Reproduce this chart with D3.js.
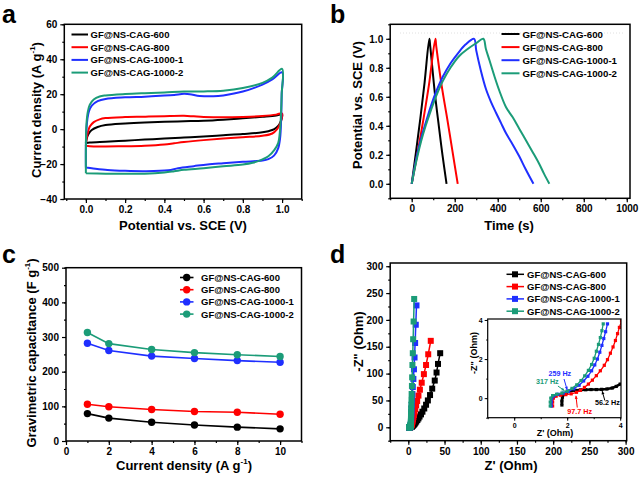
<!DOCTYPE html>
<html>
<head>
<meta charset="utf-8">
<script src="https://cdn.jsdelivr.net/npm/d3@7"></script>
<style>
  body { margin: 0; background: #fff; }
  svg text { font-family: Arial, "Liberation Sans", sans-serif; font-weight: bold; fill: #000; }
</style>
</head>
<body>
<svg id="fig" width="641" height="479"></svg>
<script>
// ---- shared series info ----
const seriesNames = ["GF@NS-CAG-600", "GF@NS-CAG-800", "GF@NS-CAG-1000-1", "GF@NS-CAG-1000-2"];
const seriesColors = ["#000000", "#ff0000", "#1f2fff", "#1b9c78"];

// ---- (a) CV loops: [potential V, current A/g] ----
const cv600 = [[0,-8],[0.005,-5],[0.015,-2.5],[0.03,-0.5],[0.06,1.2],[0.1,2.3],[0.2,3.2],[0.3,3.8],[0.4,4.2],[0.5,4.5],[0.6,4.8],[0.7,5.4],[0.8,6.2],[0.9,7.1],[0.97,7.8],[1.0,8.3],
  [0.995,5],[0.985,2.5],[0.97,0.8],[0.95,-0.5],[0.9,-1.8],[0.8,-2.8],[0.7,-3.5],[0.6,-4.2],[0.5,-4.8],[0.4,-5.4],[0.3,-6.0],[0.2,-6.6],[0.1,-7.2],[0.02,-7.7],[0,-8]];
const cv800 = [[0,-9.5],[0.003,-6],[0.01,-2],[0.02,1.5],[0.04,4],[0.07,5.6],[0.1,6.3],[0.2,6.9],[0.3,7.1],[0.4,7.4],[0.5,7.6],[0.55,7.3],[0.6,7.0],[0.7,6.8],[0.8,7.0],[0.9,7.5],[0.97,8.3],[1.0,9.0],
  [0.998,6],[0.99,3],[0.975,0],[0.95,-2.5],[0.9,-3.8],[0.8,-4.6],[0.7,-5.4],[0.6,-6.3],[0.5,-7.4],[0.45,-8.1],[0.4,-8.8],[0.3,-9.5],[0.2,-9.8],[0.1,-9.9],[0.02,-9.8],[0,-9.5]];
const cv1000a = [[0,-22],[0,-10],[0.003,0],[0.008,6],[0.015,10],[0.03,13.5],[0.06,16],[0.1,17.3],[0.2,18.2],[0.3,18.6],[0.4,19.2],[0.45,19.6],[0.5,20.2],[0.53,20.0],[0.58,19.0],[0.65,18.8],[0.7,19.3],[0.8,21.5],[0.9,25.5],[0.95,28.5],[1.0,32.5],
  [0.998,20],[0.995,5],[0.99,-5],[0.98,-11],[0.96,-15],[0.93,-17.2],[0.9,-18],[0.8,-18.7],[0.7,-19.5],[0.62,-20.2],[0.55,-21.2],[0.47,-22.4],[0.42,-23.6],[0.3,-24.1],[0.2,-23.9],[0.11,-23.4],[0.03,-22.4],[0,-22]];
const cv1000b = [[0,-25.2],[0,-10],[0.003,3],[0.01,10],[0.02,14],[0.04,17],[0.07,18.7],[0.1,19.3],[0.2,20.1],[0.3,20.6],[0.4,21.0],[0.5,21.5],[0.6,21.6],[0.7,22.0],[0.8,23.5],[0.9,26.5],[0.95,29.5],[1.0,34.5],
  [0.998,20],[0.99,0],[0.98,-8],[0.96,-12],[0.93,-15.5],[0.9,-17.3],[0.85,-19.3],[0.8,-20.3],[0.7,-21.3],[0.6,-22.4],[0.5,-23.3],[0.45,-24.1],[0.4,-24.8],[0.3,-25.5],[0.2,-25.6],[0.1,-25.5],[0,-25.2]];
const cvSeries = [cv600, cv800, cv1000a, cv1000b];

// ---- (b) GCD curves: [time s, potential V] ----
const gcd600 = [[0,0],[20,0.22],[40,0.45],[60,0.7],[82,1.0],[86,0.95],[108,0.62],[126,0.4],[143,0.2],[162,0]];
const gcd800 = [[0,0],[28,0.22],[55,0.45],[80,0.68],[110,1.0],[114,0.95],[140,0.67],[165,0.45],[190,0.22],[214,0]];
const gcd1000a = [[0,0],[12,0.1],[25,0.2],[45,0.32],[65,0.42],[90,0.54],[115,0.64],[145,0.74],[180,0.83],[215,0.9],[250,0.96],[290,1.0],
  [300,0.92],[320,0.79],[346,0.65],[370,0.56],[392,0.49],[415,0.42],[438,0.35],[470,0.27],[500,0.19],[530,0.1],[566,0]];
const gcd1000b = [[0,0],[12,0.09],[25,0.18],[45,0.3],[65,0.4],[90,0.51],[115,0.61],[145,0.71],[180,0.8],[220,0.88],[260,0.93],[300,0.97],[333,1.0],
  [345,0.93],[362,0.85],[385,0.74],[408,0.64],[438,0.53],[469,0.46],[500,0.38],[531,0.3],[562,0.22],[592,0.14],[615,0.07],[640,0]];
const gcdSeries = [gcd600, gcd800, gcd1000a, gcd1000b];

// ---- (c) rate capability ----
const currentDensity = [1, 2, 4, 6, 8, 10];
const cap600 = [79, 66, 54, 46, 40, 35];
const cap800 = [106, 99, 91, 85, 83, 77];
const cap1000a = [282, 261, 245, 238, 232, 227];
const cap1000b = [313, 281, 264, 255, 249, 244];
const capSeries = [cap600, cap800, cap1000a, cap1000b];

// ---- (d) Nyquist: [Z' ohm, -Z'' ohm] ----
const eis600 = [[1.8,-0.35],[1.8,-0.15],[1.82,0.05],[1.88,0.2],[1.98,0.3],[2.1,0.37],[2.3,0.4],[2.5,0.42],[2.7,0.43],[2.9,0.44],[3.1,0.44],[3.3,0.45],[3.5,0.47],[3.7,0.52],[3.85,0.6],[4.0,0.72],
  [4.4,1.0],[4.9,1.5],[5.5,2.2],[6.2,3.0],[7.0,4.0],[8.0,5.3],[9.0,7],[10,9],[11,11],[12.5,13.5],[14,16.5],[15.5,20],[17.5,24],[19.5,29],[22,35],[24.5,42],[27,50],[30,60],[33,72],[36.5,87],[39,102],[41,118],[44,138]];
const eis800 = [[1.45,-0.4],[1.45,-0.2],[1.48,0.0],[1.58,0.1],[1.75,0.15],[1.95,0.18],[2.15,0.22],[2.35,0.3],[2.5,0.4],[2.65,0.55],[2.8,0.72],[2.95,0.92],[3.1,1.15],[3.25,1.4],[3.4,1.68],[3.52,1.97],[3.63,2.3],[3.73,2.62],[3.82,2.95],[3.9,3.3],[3.97,3.62],[4.05,3.95],
  [4.3,4.5],[4.6,5.2],[4.9,6.3],[5.2,8],[5.6,10],[6.0,12.5],[6.5,15.5],[7.1,19],[7.8,23],[8.6,28],[9.6,34],[10.8,41],[12.2,49],[14,59],[16,70],[18.5,83],[21.5,99],[24.5,116],[27.5,136],[31,161]];
const eis1000a = [[1.4,-0.4],[1.4,-0.2],[1.42,0.0],[1.5,0.12],[1.65,0.2],[1.85,0.26],[2.05,0.34],[2.25,0.48],[2.45,0.66],[2.62,0.88],[2.78,1.12],[2.92,1.4],[3.04,1.7],[3.14,2.0],[3.23,2.35],[3.31,2.7],[3.38,3.05],[3.45,3.4],[3.52,3.8],
  [3.6,4.8],[3.65,6],[3.7,7.5],[3.75,9.5],[3.8,12],[3.9,15],[4.0,19],[4.1,24],[4.3,29],[4.5,35],[4.8,42],[5.2,51],[5.6,62],[6.2,75],[7.0,90],[7.8,108],[8.6,130],[9.4,157],[10.3,191],[11.3,227]];
const eis1000b = [[1.36,-0.4],[1.36,-0.2],[1.38,0.0],[1.45,0.13],[1.6,0.2],[1.8,0.26],[2.0,0.36],[2.18,0.5],[2.36,0.68],[2.52,0.9],[2.66,1.14],[2.8,1.42],[2.92,1.72],[3.02,2.04],[3.1,2.4],[3.18,2.75],[3.25,3.1],[3.31,3.45],[3.36,3.8],
  [3.4,4.8],[3.45,6],[3.5,7.5],[3.55,9.5],[3.6,12],[3.65,15],[3.7,19],[3.8,24],[3.9,29],[4.0,35],[4.2,42],[4.4,51],[4.6,62],[5.0,77],[5.3,93],[5.7,116],[6.2,138],[6.7,164],[7.3,197],[8.1,239]];
const eisSeries = [eis600, eis800, eis1000a, eis1000b];

// frequency labels in the inset
const freqLabels = ["56.2 Hz", "97.7 Hz", "259 Hz", "317 Hz"];

// ---------------------------------------------------------------
const svg = d3.select("#fig");
svg.append("rect").attr("width", 641).attr("height", 479).attr("fill", "#fff");

// draws ticks (major + minor, outward) and the box frame
function drawAxes(g, x, y, o) {
  const bottom = y.range()[0], top = y.range()[1];
  const left = x.range()[0], right = x.range()[1];
  const fs = o.fontSize || 10;
  const tickStyle = sel => {
    sel.select(".domain").remove();
    sel.selectAll("line").attr("stroke", "#000").attr("stroke-width", o.tickW || 1.2);
    sel.selectAll("text").attr("font-size", fs).attr("font-family", null).attr("fill", "#000");
    sel.attr("font-family", null).attr("font-size", null);
  };
  g.append("g").attr("transform", `translate(0,${bottom})`)
    .call(d3.axisBottom(x).tickValues(o.xMinor).tickSize(o.minor || 2).tickFormat("")).call(tickStyle);
  g.append("g").attr("transform", `translate(0,${bottom})`)
    .call(d3.axisBottom(x).tickValues(o.xMajor).tickSize(o.major || 4).tickPadding(o.pad || 3).tickFormat(o.xFmt)).call(tickStyle);
  g.append("g").attr("transform", `translate(${left},0)`)
    .call(d3.axisLeft(y).tickValues(o.yMinor).tickSize(o.minor || 2).tickFormat("")).call(tickStyle);
  g.append("g").attr("transform", `translate(${left},0)`)
    .call(d3.axisLeft(y).tickValues(o.yMajor).tickSize(o.major || 4).tickPadding(o.pad || 3).tickFormat(o.yFmt)).call(tickStyle);
  g.append("rect")
    .attr("x", left).attr("y", top).attr("width", right - left).attr("height", bottom - top)
    .attr("fill", "none").attr("stroke", "#000").attr("stroke-width", o.frameW || 1.5);
}

// axis title, optional superscript "-1"
function title(g, txt, sup, after, x, y, rotate, size) {
  const t = g.append("text").attr("font-size", size || 13).attr("text-anchor", "middle")
    .attr("transform", rotate ? `translate(${x},${y}) rotate(-90)` : `translate(${x},${y})`);
  t.append("tspan").text(txt);
  if (sup) {
    t.append("tspan").attr("font-size", 8).attr("dy", -6).text(sup);
    t.append("tspan").attr("dy", 6).text(after);
  }
}

function letter(txt, x, y) {
  svg.append("text").attr("x", x).attr("y", y).attr("font-size", 25).text(txt);
}

function range(a, b, s) { return d3.range(a, b + s / 2, s); }

// ======================= (a) =======================
{
  const g = svg.append("g");
  const x = d3.scaleLinear().domain([-0.11, 1.1]).range([64.3, 301.7]);
  const y = d3.scaleLinear().domain([-40, 60]).range([199, 24.3]);
  const line = d3.line().x(d => x(d[0])).y(d => y(d[1])).curve(d3.curveCatmullRom.alpha(0.5));
  cvSeries.forEach((s, i) => {
    g.append("path").attr("d", line(s)).attr("fill", "none")
      .attr("stroke", seriesColors[i]).attr("stroke-width", 2);
  });
  drawAxes(g, x, y, {
    xMajor: range(0, 1, 0.2), xMinor: range(-0.1, 1.1, 0.1), xFmt: d3.format(".1f"),
    yMajor: range(-40, 60, 20), yMinor: range(-40, 60, 10), yFmt: d3.format("d")
  });
  seriesNames.forEach((n, i) => {
    const cy = 34.5 + i * 12.7;
    g.append("line").attr("x1", 71.5).attr("x2", 88).attr("y1", cy).attr("y2", cy)
      .attr("stroke", seriesColors[i]).attr("stroke-width", 2);
    g.append("text").attr("x", 90.5).attr("y", cy + 3.4).attr("font-size", 9.5).text(n);
  });
  title(g, "Potential vs. SCE (V)", null, null, 183, 229.5, false);
  title(g, "Current density (A g", "-1", ")", 40.5, 110, true);
  letter("a", 2, 23);
}

// ======================= (b) =======================
{
  const g = svg.append("g");
  const x = d3.scaleLinear().domain([-100, 1015]).range([390.2, 630]);
  const y = d3.scaleLinear().domain([-0.1, 1.1]).range([198.3, 24.3]);
  g.append("line").attr("x1", 400).attr("x2", 625).attr("y1", y(1.04)).attr("y2", y(1.04))
    .attr("stroke", "#d8d8d8").attr("stroke-width", 0.8).attr("stroke-dasharray", "1,2");
  const line = d3.line().x(d => x(d[0])).y(d => y(d[1])).curve(d3.curveCatmullRom.alpha(0.5));
  gcdSeries.forEach((s, i) => {
    g.append("path").attr("d", line(s)).attr("fill", "none")
      .attr("stroke", seriesColors[i]).attr("stroke-width", 2);
  });
  drawAxes(g, x, y, {
    xMajor: range(0, 1000, 200), xMinor: range(-100, 1000, 100), xFmt: d3.format("d"),
    yMajor: range(0, 1, 0.2), yMinor: range(-0.1, 1.1, 0.1), yFmt: d3.format(".1f")
  });
  seriesNames.forEach((n, i) => {
    const cy = 34 + i * 13.1;
    g.append("line").attr("x1", 501.5).attr("x2", 519.5).attr("y1", cy).attr("y2", cy)
      .attr("stroke", seriesColors[i]).attr("stroke-width", 2);
    g.append("text").attr("x", 522.5).attr("y", cy + 3.5).attr("font-size", 9.7).text(n);
  });
  title(g, "Time (s)", null, null, 509, 229.5, false);
  title(g, "Potential vs. SCE (V)", null, null, 362, 105, true);
  letter("b", 330, 23);
}

// ======================= (c) =======================
{
  const g = svg.append("g");
  const x = d3.scaleLinear().domain([0, 11]).range([66, 301.5]);
  const y = d3.scaleLinear().domain([0, 500]).range([441, 267.7]);
  const line = d3.line().x((d, j) => x(currentDensity[j])).y(d => y(d));
  capSeries.forEach((s, i) => {
    g.append("path").attr("d", line(s)).attr("fill", "none")
      .attr("stroke", seriesColors[i]).attr("stroke-width", 1.6);
    g.selectAll(null).data(s).enter().append("circle")
      .attr("cx", (d, j) => x(currentDensity[j])).attr("cy", d => y(d)).attr("r", 3.7)
      .attr("fill", seriesColors[i]);
  });
  drawAxes(g, x, y, {
    xMajor: range(0, 10, 2), xMinor: range(0, 11, 1), xFmt: d3.format("d"),
    yMajor: range(0, 500, 100), yMinor: range(0, 500, 50), yFmt: d3.format("d")
  });
  seriesNames.forEach((n, i) => {
    const cy = 277.5 + i * 12.2;
    g.append("line").attr("x1", 180).attr("x2", 193.5).attr("y1", cy).attr("y2", cy)
      .attr("stroke", seriesColors[i]).attr("stroke-width", 1.6);
    g.append("circle").attr("cx", 186.7).attr("cy", cy).attr("r", 3.7).attr("fill", seriesColors[i]);
    g.append("text").attr("x", 201).attr("y", cy + 3.4).attr("font-size", 9.5).text(n);
  });
  title(g, "Current density (A g", "-1", ")", 184, 470, false);
  title(g, "Gravimetric capacitance (F g", "-1", ")", 35.5, 353, true);
  letter("c", 2, 262.5);
}

// ======================= (d) =======================
{
  const g = svg.append("g");
  const x = d3.scaleLinear().domain([-25, 301.5]).range([390.2, 626.7]);
  const y = d3.scaleLinear().domain([-25, 306]).range([440.7, 263]);
  const line = d3.line().x(d => x(d[0])).y(d => y(d[1]));
  eisSeries.forEach((s, i) => {
    g.append("path").attr("d", line(s)).attr("fill", "none")
      .attr("stroke", seriesColors[i]).attr("stroke-width", 1.5);
    g.selectAll(null).data(s).enter().append("rect")
      .attr("x", d => x(d[0]) - 3).attr("y", d => y(d[1]) - 3)
      .attr("width", 6).attr("height", 6).attr("fill", seriesColors[i]);
  });
  drawAxes(g, x, y, {
    xMajor: range(0, 300, 50), xMinor: range(-25, 300, 25), xFmt: d3.format("d"),
    yMajor: range(0, 300, 50), yMinor: range(-25, 300, 25), yFmt: d3.format("d")
  });
  seriesNames.forEach((n, i) => {
    const cy = 274.3 + i * 12.3;
    g.append("line").attr("x1", 506.5).attr("x2", 524).attr("y1", cy).attr("y2", cy)
      .attr("stroke", seriesColors[i]).attr("stroke-width", 1.5);
    g.append("rect").attr("x", 512).attr("y", cy - 3).attr("width", 6).attr("height", 6)
      .attr("fill", seriesColors[i]);
    g.append("text").attr("x", 527).attr("y", cy + 3.4).attr("font-size", 9.5).text(n);
  });
  title(g, "Z' (Ohm)", null, null, 511, 470, false);
  title(g, "-Z\" (Ohm)", null, null, 362.5, 341.5, true);
  letter("d", 330, 262.5);

  // ---- inset ----
  const ix = d3.scaleLinear().domain([-1, 4.03]).range([487.7, 621]);
  const iy = d3.scaleLinear().domain([-1, 4.05]).range([417.7, 319]);
  const ig = g.append("g");
  ig.append("rect").attr("x", 487.7).attr("y", 319).attr("width", 621 - 487.7).attr("height", 417.7 - 319)
    .attr("fill", "#fff");
  svg.append("clipPath").attr("id", "insetClip").append("rect")
    .attr("x", 487.7).attr("y", 319).attr("width", 621 - 487.7).attr("height", 417.7 - 319);
  const pg = ig.append("g").attr("clip-path", "url(#insetClip)");
  const iline = d3.line().x(d => ix(d[0])).y(d => iy(d[1]));
  eisSeries.forEach((s, i) => {
    const pts = s.filter(d => d[0] <= 4.3 && d[1] <= 4.3);
    pg.append("path").attr("d", iline(pts)).attr("fill", "none")
      .attr("stroke", seriesColors[i]).attr("stroke-width", i === 0 ? 2.6 : 1.3);
    pg.selectAll(null).data(pts).enter().append("rect")
      .attr("x", d => ix(d[0]) - 1.6).attr("y", d => iy(d[1]) - 1.6)
      .attr("width", 3.2).attr("height", 3.2).attr("fill", seriesColors[i]);
  });
  drawAxes(ig, ix, iy, {
    xMajor: [0, 2, 4], xMinor: [-1, 0, 1, 2, 3, 4], xFmt: d3.format("d"),
    yMajor: [0, 2, 4], yMinor: [-1, 0, 1, 2, 3, 4], yFmt: d3.format("d"),
    fontSize: 7, major: 3, minor: 1.5, pad: 2, frameW: 1.2, tickW: 1
  });
  title(ig, "Z' (Ohm)", null, null, 555, 435.5, false, 9);
  title(ig, "-Z\" (Ohm)", null, null, 476.5, 353, true, 9);

  // frequency annotations: [text pos, arrow start, arrow end] in inset units
  const ann = [
    { c: 0, t: [3.52, -0.36], a: [3.42, -0.12], b: [3.32, 0.36] },
    { c: 1, t: [2.47, -0.82], a: [2.38, -0.48], b: [2.33, 0.12] },
    { c: 2, t: [1.72, 1.14], a: [1.88, 0.98], b: [2.0, 0.42] },
    { c: 3, t: [1.25, 0.7], a: [1.65, 0.62], b: [1.9, 0.38] }
  ];
  ann.forEach(d => {
    const col = seriesColors[d.c];
    ig.append("text").attr("x", ix(d.t[0])).attr("y", iy(d.t[1])).attr("text-anchor", "middle")
      .attr("font-size", 7.2).attr("fill", col).style("fill", col).text(freqLabels[d.c]);
    const x1 = ix(d.a[0]), y1 = iy(d.a[1]), x2 = ix(d.b[0]), y2 = iy(d.b[1]);
    ig.append("line").attr("x1", x1).attr("y1", y1).attr("x2", x2).attr("y2", y2)
      .attr("stroke", col).attr("stroke-width", 1);
    const ang = Math.atan2(y2 - y1, x2 - x1), h = 3.5;
    ig.append("path")
      .attr("d", `M${x2},${y2}L${x2 - h * Math.cos(ang - 0.45)},${y2 - h * Math.sin(ang - 0.45)}L${x2 - h * Math.cos(ang + 0.45)},${y2 - h * Math.sin(ang + 0.45)}Z`)
      .attr("fill", col);
  });
}
</script>
</body>
</html>
